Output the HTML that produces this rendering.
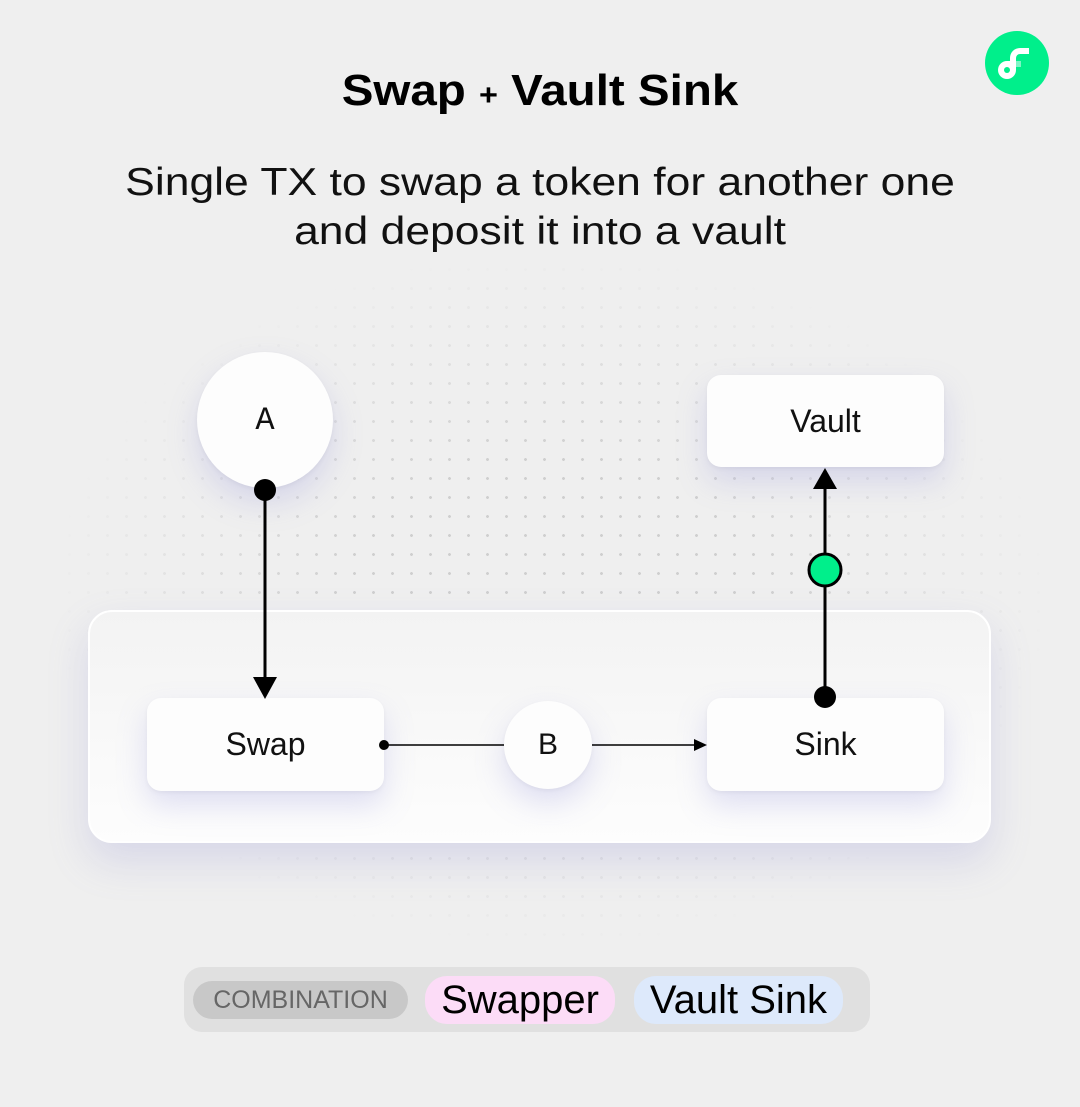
<!DOCTYPE html>
<html><head><meta charset="utf-8"><style>
body{margin:0;width:1080px;height:1107px;background:#efefef;font-family:"Liberation Sans",sans-serif;position:relative;overflow:hidden}
.abs{position:absolute}
.box{position:absolute;background:#fdfdfd;border-radius:14px;box-shadow:0 14px 30px rgba(140,140,220,.25),0 2px 4px rgba(0,0,0,.05);display:flex;align-items:center;justify-content:center;font-size:32px;color:#111}
.pill{position:absolute;border-radius:22px;display:flex;align-items:center;justify-content:center}
</style></head><body>
<div class="abs" style="left:60px;top:260px;width:980px;height:680px;background-image:radial-gradient(circle,#cfcfcf 1.3px,transparent 1.6px);background-size:19px 19px;-webkit-mask-image:radial-gradient(ellipse at center,#000 30%,transparent 72%);mask-image:radial-gradient(ellipse at center,#000 30%,transparent 72%)"></div>
<div class="abs" style="left:0;width:1080px;top:66px;text-align:center;font-weight:bold;font-size:44px;color:#000;transform:scaleX(1.08)">Swap <span style="font-size:30px">+</span> Vault Sink</div>
<div class="abs" style="left:0;width:1080px;top:158px;text-align:center;font-size:39px;line-height:49px;color:#111;transform:scaleX(1.14)">Single TX to swap a token for another one<br>and deposit it into a vault</div>
<svg class="abs" style="left:985px;top:31px" width="64" height="64" viewBox="0 0 64 64"><circle cx="32" cy="32" r="32" fill="#00ef8b"/><path d="M44 17h-9a10 10 0 0 0-10 10v3h-3a9 9 0 1 0 9 9v-3h5v-6h-5v-3a4 4 0 0 1 4-4h9z" fill="#fff"/><circle cx="22" cy="39" r="3" fill="#00ef8b"/><rect x="31" y="30" width="5" height="6" fill="#7ff5c5"/></svg>
<div class="abs" style="left:88px;top:610px;width:903px;height:233px;border-radius:24px;background:linear-gradient(#f3f3f3,#fdfdfd);border:2px solid #fff;box-sizing:border-box;box-shadow:0 18px 40px rgba(130,130,210,.22)"></div>
<div class="box" style="left:197px;top:352px;width:136px;height:136px;border-radius:50%;font-family:'Liberation Mono',monospace">A</div>
<div class="box" style="left:707px;top:375px;width:237px;height:92px">Vault</div>
<div class="box" style="left:147px;top:698px;width:237px;height:93px">Swap</div>
<div class="box" style="left:707px;top:698px;width:237px;height:93px">Sink</div>
<div class="box" style="left:504px;top:701px;width:88px;height:88px;border-radius:50%;font-size:30px">B</div>
<svg class="abs" style="left:0;top:0" width="1080" height="1107">
<line x1="265" y1="490" x2="265" y2="680" stroke="#000" stroke-width="3"/>
<polygon points="253,677 277,677 265,699" fill="#000"/>
<circle cx="265" cy="490" r="11" fill="#000"/>
<line x1="384" y1="745" x2="504" y2="745" stroke="#000" stroke-width="1.5"/>
<circle cx="384" cy="745" r="5" fill="#000"/>
<line x1="592" y1="745" x2="698" y2="745" stroke="#000" stroke-width="1.5"/>
<polygon points="694,739 707,745 694,751" fill="#000"/>
<line x1="825" y1="697" x2="825" y2="485" stroke="#000" stroke-width="3"/>
<polygon points="813,489 837,489 825,468" fill="#000"/>
<circle cx="825" cy="697" r="11" fill="#000"/>
<circle cx="825" cy="570" r="16" fill="#00ef8b" stroke="#000" stroke-width="3"/>
</svg>
<div class="abs" style="left:184px;top:967px;width:686px;height:65px;border-radius:18px;background:#e0e0e0"></div>
<div class="pill" style="left:193px;top:981px;width:215px;height:38px;background:#c8c8c8;color:#666;font-size:25px">COMBINATION</div>
<div class="pill" style="left:425px;top:976px;width:190px;height:48px;background:#fcdcf7;color:#000;font-size:40px">Swapper</div>
<div class="pill" style="left:634px;top:976px;width:209px;height:48px;background:#dde9fb;color:#000;font-size:40px">Vault Sink</div>
</body></html>
